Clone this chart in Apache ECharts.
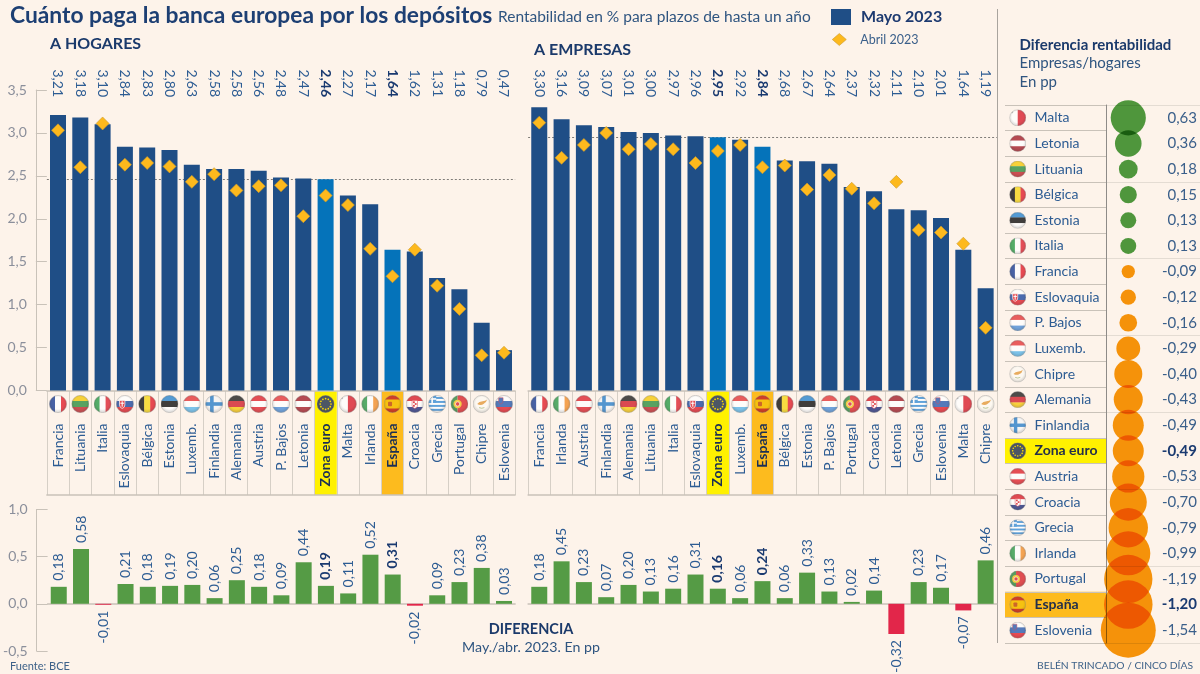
<!DOCTYPE html>
<html><head><meta charset="utf-8">
<style>html,body{margin:0;padding:0;background:#fdf3ea}#c{width:1200px;height:674px}</style>
<script src="https://cdn.jsdelivr.net/npm/echarts@6/dist/echarts.min.js"></script>
</head><body><div id="c"></div>
<script>
// ---------- data ----------
const catsHogares=['Francia','Lituania','Italia','Eslovaquia','Bélgica','Estonia','Luxemb.','Finlandia','Alemania','Austria','P. Bajos','Letonia','Zona euro','Malta','Irlanda','España','Croacia','Grecia','Portugal','Chipre','Eslovenia'];
const mayoHogares=[3.21,3.18,3.10,2.84,2.83,2.80,2.63,2.58,2.58,2.56,2.48,2.47,2.46,2.27,2.17,1.64,1.62,1.31,1.18,0.79,0.47];
const abrilHogares=[3.03,2.60,3.11,2.63,2.65,2.61,2.43,2.52,2.33,2.38,2.39,2.03,2.27,2.16,1.65,1.33,1.64,1.22,0.95,0.41,0.44];
const difHogares=[0.18,0.58,-0.01,0.21,0.18,0.19,0.20,0.06,0.25,0.18,0.09,0.44,0.19,0.11,0.52,0.31,-0.02,0.09,0.23,0.38,0.03];
const catsEmpresas=['Francia','Irlanda','Austria','Finlandia','Alemania','Lituania','Italia','Eslovaquia','Zona euro','Luxemb.','España','Bélgica','Estonia','P. Bajos','Portugal','Croacia','Letonia','Grecia','Eslovenia','Malta','Chipre'];
const mayoEmpresas=[3.30,3.16,3.09,3.07,3.01,3.00,2.97,2.96,2.95,2.92,2.84,2.68,2.67,2.64,2.37,2.32,2.11,2.10,2.01,1.64,1.19];
const abrilEmpresas=[3.12,2.71,2.86,3.00,2.81,2.87,2.81,2.65,2.79,2.86,2.60,2.62,2.34,2.51,2.35,2.18,2.43,1.87,1.84,1.71,0.73];
const difEmpresas=[0.18,0.45,0.23,0.07,0.20,0.13,0.16,0.31,0.16,0.06,0.24,0.06,0.33,0.13,0.02,0.14,-0.32,0.23,0.17,-0.07,0.46];
const catsTabla=['Malta','Letonia','Lituania','Bélgica','Estonia','Italia','Francia','Eslovaquia','P. Bajos','Luxemb.','Chipre','Alemania','Finlandia','Zona euro','Austria','Croacia','Grecia','Irlanda','Portugal','España','Eslovenia'];
const difTabla=[0.63,0.36,0.18,0.15,0.13,0.13,-0.09,-0.12,-0.16,-0.29,-0.40,-0.43,-0.49,-0.49,-0.53,-0.70,-0.79,-0.99,-1.19,-1.20,-1.54];
const ticksMain=[0,0.5,1,1.5,2,2.5,3,3.5];
const ticksDif=[-0.5,0,0.5,1];

// ---------- style ----------
const FONT='Lato';
const BG='#fdf3ea',NAVY='#1f4e86',BLUE='#0573ba',DIAMOND='#fdb91d',GREEN='#559b45',RED='#e2264a';
const INK='#1d3f73',TXT='#2d5c93',GREY='#8b8f9b',RULE='#c9c2b9';
const HL={'Zona euro':'#fff100','España':'#fdbb1e'};
const fmt=v=>v.toFixed(2).replace('.',',');
const fmt1=v=>v.toFixed(1).replace('.',',');

// ---------- flags ----------
const h=(a,b,c)=>`<rect width="20" height="7" fill="${a}"/><rect y="6.67" width="20" height="7" fill="${b}"/><rect y="13.33" width="20" height="7" fill="${c}"/>`;
const v=(a,b,c)=>`<rect width="7" height="20" fill="${a}"/><rect x="6.67" width="7" height="20" fill="${b}"/><rect x="13.33" width="7" height="20" fill="${c}"/>`;
let stars='';for(let i=0;i<12;i++){const t=i*Math.PI/6;stars+=`<circle cx="${10+6*Math.cos(t)}" cy="${10+6*Math.sin(t)}" r="0.95" fill="#ffd800"/>`;}
const flagArt={
 'Francia':v('#1c3f94','#fff','#e2202c'),'Lituania':h('#f6c90e','#2f8f3f','#c1272d'),'Italia':v('#2b9b48','#fff','#dd2533'),
 'Eslovaquia':h('#fff','#1f4aa0','#e0202c')+'<path d="M4 6h6v5q0 3-3 4q-3-1-3-4z" fill="#e0202c" stroke="#fff" stroke-width=".8"/><rect x="6.4" y="7" width="1.2" height="6" fill="#fff"/><rect x="5" y="8.6" width="4" height="1.1" fill="#fff"/>',
 'Bélgica':v('#111','#f8d717','#e2202c'),'Estonia':h('#2a86cf','#111','#fff'),'Luxemb.':h('#e5383b','#fff','#5db7ea'),
 'Finlandia':'<rect width="20" height="20" fill="#f6f6f6"/><rect x="5.5" width="4" height="20" fill="#2a7fc9"/><rect y="8" width="20" height="4" fill="#2a7fc9"/>',
 'Alemania':h('#222','#d3202c','#f8c811'),'Austria':h('#e0252f','#fff','#e0252f'),'P. Bajos':h('#e5383b','#fff','#4d8fd8'),'Letonia':h('#a5202c','#fff','#a5202c'),
 'Zona euro':'<rect width="20" height="20" fill="#20307f"/>'+stars,
 'Malta':'<rect width="10" height="20" fill="#fff"/><rect x="10" width="10" height="20" fill="#d9202f"/><rect x="2.5" y="2.5" width="2" height="2" fill="#bbb"/>',
 'Irlanda':v('#2f9a4a','#fff','#f3902d'),
 'España':'<rect width="20" height="20" fill="#f5c40f"/><rect width="20" height="5" fill="#c6202c"/><rect y="15" width="20" height="5" fill="#c6202c"/><rect x="5" y="7.5" width="4.5" height="5" rx="1" fill="#c0512c"/>',
 'Croacia':h('#d9202c','#fff','#23307f')+'<path d="M7 6h6v6q0 2-3 3q-3-1-3-3z" fill="#fff" stroke="#d9202c" stroke-width=".6"/><rect x="8" y="7" width="2" height="2" fill="#d9202c"/><rect x="10" y="9" width="2" height="2" fill="#d9202c"/><rect x="8" y="11" width="2" height="2" fill="#d9202c"/>',
 'Grecia':'<rect width="20" height="20" fill="#fff"/><rect y="2.2" width="20" height="2.2" fill="#3a8ed6"/><rect y="6.6" width="20" height="2.2" fill="#3a8ed6"/><rect y="11" width="20" height="2.2" fill="#3a8ed6"/><rect y="15.4" width="20" height="2.2" fill="#3a8ed6"/><rect width="9" height="8.8" fill="#3a8ed6"/><rect x="3.6" width="1.8" height="8.8" fill="#fff"/><rect y="3.5" width="9" height="1.8" fill="#fff"/>',
 'Portugal':'<rect width="8" height="20" fill="#2f8a3f"/><rect x="8" width="12" height="20" fill="#d9252c"/><circle cx="8" cy="10" r="4.6" fill="#f3c21b"/><circle cx="8" cy="10" r="2.4" fill="#d9252c" stroke="#fff" stroke-width=".7"/>',
 'Chipre':'<rect width="20" height="20" fill="#fdfaf3"/><path d="M5 10q2-3 6-3q3 0 5-2q-1 4-4 5q-3 2-7 0z" fill="#e39a3c"/><path d="M7 14q3 1.500 6 0" stroke="#8aa35a" stroke-width=".8" fill="none"/>',
 'Eslovenia':h('#fff','#2a5db0','#e0202c')+'<path d="M4 3h5v4q0 2-2.500 3q-2.500-1-2.500-3z" fill="#2a5db0" stroke="#e0202c" stroke-width=".5"/>'
};
function flagUri(name){
 const svg=`<svg xmlns="http://www.w3.org/2000/svg" width="60" height="60" viewBox="0 0 20 20"><defs><clipPath id="k"><circle cx="10" cy="10" r="9.6"/></clipPath><radialGradient id="g" cx=".5" cy=".45" r=".55"><stop offset=".6" stop-color="#000" stop-opacity="0"/><stop offset="1" stop-color="#000" stop-opacity=".22"/></radialGradient></defs><g clip-path="url(#k)">${flagArt[name]}<circle cx="10" cy="10" r="10" fill="url(#g)"/></g><circle cx="10" cy="10" r="9.6" fill="none" stroke="#8d8d8d" stroke-width=".5"/></svg>`;
 return 'image://data:image/svg+xml;charset=utf-8,'+encodeURIComponent(svg);
}

// ---------- layout ----------
const FLAG_Y=0.875;
const grid=[],xAxis=[],yAxis=[],series=[];
function panel(cats,mayo,abril,dif,left,width,showY,yOff){
 const ga=grid.length;
 grid.push({left,width,top:90,height:300.5},{left,width,top:391,height:104},{left,width,top:509.4,height:141.6});
 const xa=xAxis.length,ya=yAxis.length;
 const hi=c=>c in HL;
 const catRich={n:{color:TXT,fontFamily:FONT,fontSize:14},b:{color:'#1a2f55',fontFamily:FONT,fontSize:14,fontWeight:'bold'}};
 xAxis.push(
  {type:'category',gridIndex:ga,data:cats,position:'bottom',axisTick:{show:false},axisLine:{lineStyle:{color:RULE,width:1.5}},
   axisLabel:{interval:0,rotate:90,margin:33,hideOverlap:false,formatter:(s)=>hi(s)?`{b|${s}}`:`{n|${s}}`,rich:catRich}},
  {type:'category',gridIndex:ga,data:mayo.map(fmt),position:'top',axisTick:{show:false},axisLine:{show:false},
   axisLabel:{interval:0,rotate:90,margin:-7,hideOverlap:false,formatter:(s,i)=>hi(cats[i])?`{b|${s}}`:`{n|${s}}`,
    rich:{n:{color:TXT,fontFamily:FONT,fontSize:14},b:{color:'#1a3a70',fontFamily:FONT,fontSize:14,fontWeight:'bold'}}}},
  {type:'category',gridIndex:ga+1,data:cats,axisTick:{show:false},axisLabel:{show:false},axisLine:{lineStyle:{color:RULE,width:1.5}},
   splitLine:{show:true,interval:0,lineStyle:{color:'#d6cfc6',width:1}}},
  {type:'category',gridIndex:ga+2,data:cats,axisTick:{show:false},axisLabel:{show:false},axisLine:{onZero:true,lineStyle:{color:RULE,width:1.5}}}
 );
 const axisY=(gi,min,max,interval,ticks)=>({type:'value',gridIndex:gi,min,max,interval,show:showY,offset:yOff,
   splitLine:{show:false},axisLine:{show:true,lineStyle:{color:RULE,width:1}},axisTick:{show:true,inside:true,length:yOff,lineStyle:{color:RULE}},
   axisLabel:{margin:9,padding:[0,0,4,0],color:GREY,fontFamily:FONT,fontSize:14,formatter:(val)=>ticks.includes(val)?fmt1(val):''}});
 yAxis.push(axisY(ga,0,3.5,0.5,ticksMain),
  {type:'value',gridIndex:ga+1,min:0,max:1,show:false},
  axisY(ga+2,-0.5,1,0.5,ticksDif));
 const zona=mayo[cats.indexOf('Zona euro')];
 series.push(
  {name:'Mayo 2023',type:'bar',xAxisIndex:xa,yAxisIndex:ya,data:mayo,barWidth:16,z:2,
   itemStyle:{color:p=>hi(cats[p.dataIndex])?BLUE:NAVY},
   markLine:{silent:true,z:1,symbol:'none',label:{show:false},animation:false,lineStyle:{color:'#7f7c78',type:[2,2],width:1},data:[{yAxis:zona}]}},
  {name:'Abril 2023',type:'scatter',xAxisIndex:xa,yAxisIndex:ya,data:abril,symbol:'diamond',symbolSize:[13,13],z:4,
   itemStyle:{color:DIAMOND,borderColor:'#c9982e',borderWidth:.6,opacity:1}},
  {type:'bar',xAxisIndex:xa+2,yAxisIndex:ya+1,barWidth:'100%',z:-1,silent:true,
   data:cats.map(c=>({value:hi(c)?1:0,itemStyle:{color:HL[c]||'transparent'}}))},
  {type:'scatter',xAxisIndex:xa+2,yAxisIndex:ya+1,symbolSize:18,z:3,silent:true,
   data:cats.map((c,i)=>({value:[i,FLAG_Y],symbol:flagUri(c)}))},
  {type:'bar',xAxisIndex:xa+3,yAxisIndex:ya+2,barWidth:16,z:2,
   data:dif.map((d,i)=>({value:d,itemStyle:{color:d<0?RED:GREEN},
     label:{show:true,rotate:90,distance:6,fontFamily:FONT,fontSize:14,fontWeight:hi(cats[i])?'bold':'normal',color:hi(cats[i])?'#1a3a70':TXT,
       position:d<0?'bottom':'top',align:d<0?'right':'left',verticalAlign:'middle',formatter:fmt(d)}}))}
 );
}
panel(catsHogares,mayoHogares,abrilHogares,difHogares,46.85,468.3,true,11);
panel(catsEmpresas,mayoEmpresas,abrilEmpresas,difEmpresas,528.1,468.7,false,0);

// table + bubbles
const gT=grid.length;
grid.push({left:1005,width:101,top:105,height:538},{left:1106,width:94,top:105,height:538});
const xT=xAxis.length,yT=yAxis.length;
xAxis.push({type:'value',gridIndex:gT,min:0,max:1,show:false},{type:'value',gridIndex:gT+1,min:0,max:1,show:false});
const rowRich={n:{color:TXT,fontFamily:FONT,fontSize:14},b:{color:'#232f4a',fontFamily:FONT,fontSize:14,fontWeight:'bold'}};
yAxis.push(
 {type:'category',gridIndex:gT,data:catsTabla,inverse:true,position:'left',axisTick:{show:false},axisLine:{show:false},
  splitLine:{show:true,interval:0,lineStyle:{color:RULE,width:1.2}},
  axisLabel:{inside:true,margin:29.5,interval:0,hideOverlap:false,formatter:s=>(s in HL)?`{b|${s}}`:`{n|${s}}`,rich:rowRich}},
 {type:'category',gridIndex:gT+1,data:catsTabla,inverse:true,position:'left',axisTick:{show:false},axisLabel:{show:false},
  axisLine:{show:true,lineStyle:{color:'#8e8b88',width:1}},
  splitLine:{show:true,interval:i=>i%3===0,lineStyle:{color:'#e4dcd3',width:1}}},
 {type:'category',gridIndex:gT+1,data:difTabla.map(fmt),inverse:true,position:'right',axisTick:{show:false},axisLine:{show:false},
  axisLabel:{inside:true,margin:3,interval:0,hideOverlap:false,formatter:(s,i)=>(catsTabla[i] in HL)?`{b|${s}}`:`{n|${s}}`,
   rich:{n:{color:'#3a5f8a',fontFamily:FONT,fontSize:15},b:{color:'#1a3a70',fontFamily:FONT,fontSize:15,fontWeight:'bold'}}}}
);
const FLAG_COL=0.126,BUBBLE_COL=0.237,BUBBLE_SCALE=44.3;
series.push(
 {type:'bar',xAxisIndex:xT,yAxisIndex:yT,barWidth:'100%',z:-1,silent:true,
  data:catsTabla.map(c=>({value:(c in HL)?1:0,itemStyle:{color:HL[c]||'transparent'}}))},
 {type:'scatter',xAxisIndex:xT,yAxisIndex:yT,symbolSize:17,z:3,silent:true,
  data:catsTabla.map((c,i)=>({value:[FLAG_COL,i],symbol:flagUri(c)}))},
 {type:'custom',name:'burbujas',xAxisIndex:xT+1,yAxisIndex:yT+1,z:5,silent:true,clip:false,
  encode:{x:0,y:1},data:difTabla.map((d,i)=>[BUBBLE_COL,i,d]),
  renderItem:(params,api)=>{
   const p=api.coord([api.value(0),api.value(1)]),d=api.value(2);
   return {type:'circle',shape:{cx:p[0],cy:p[1],r:BUBBLE_SCALE*Math.sqrt(Math.abs(d))/2},
     style:{fill:d<0?'#f7990a':'#4f9e41'}};
  }}
);

// static text
const T=(text,x,y,size,fill,weight,align)=>({type:'text',x,y,silent:true,style:{text,fill,align:align||'left',verticalAlign:'middle',font:`${weight||'normal'} ${size}px ${FONT}`}});
const option={
 animation:false,backgroundColor:BG,grid,xAxis,yAxis,series,tooltip:{show:false},
 legend:[
  {left:831,top:9,itemWidth:20,itemHeight:16,selectedMode:false,padding:0,
   data:[{name:'Mayo 2023',icon:'rect',itemStyle:{color:NAVY},textStyle:{fontFamily:FONT,fontSize:16,fontWeight:'bold',color:'#1d3a70',padding:[0,0,0,5]}}]},
  {left:832,top:33,itemWidth:14,itemHeight:12,selectedMode:false,padding:0,
   data:[{name:'Abril 2023',icon:'diamond',itemStyle:{color:DIAMOND,borderColor:'#c9982e',borderWidth:.6},textStyle:{fontFamily:FONT,fontSize:12.5,color:'#3a5f8a',padding:[0,0,0,9]}}]}
 ],
 graphic:{elements:[
  T('Cuánto paga la banca europea por los depósitos',10,16,22.8,INK,'bold'),
  T('Rentabilidad en % para plazos de hasta un año',498,17,15.5,'#2f5580'),
  T('A HOGARES',50,44,16,'#1b3a6b','bold'),
  T('A EMPRESAS',534,50,16,'#1b3a6b','bold'),
  T('Diferencia rentabilidad',1019.5,45.5,15,'#1b3a6b','bold'),
  T('Empresas/hogares',1019.5,63,15,'#2f5580'),
  T('En pp',1019.5,82,15,'#2f5580'),
  T('DIFERENCIA',531,629,14.5,'#1b3a6b','bold','center'),
  T('May./abr. 2023. En pp',531,647,14.2,'#2f5580','normal','center'),
  T('Fuente: BCE',10,666,11,'#3e6289'),
  T('BELÉN TRINCADO / CINCO DÍAS',1193,666,10.3,'#3e6289','normal','right'),
  {type:'line',silent:true,shape:{x1:997.5,y1:9,x2:997.5,y2:643},style:{stroke:'#a9a49e',lineWidth:1}}
 ]}
};
const chart=echarts.init(document.getElementById('c'),null,{renderer:'canvas'});
chart.setOption(option);
// bubbles overlap with a multiply blend, as in the reference
function blendBubbles(){
 chart.getZr().storage.traverse(el=>{
  if(el.type==='circle'&&el.style&&el.style.blend!=='multiply'&&/^#(f7990a|4f9e41)$/.test(el.style.fill)){el.style.blend='multiply';el.dirty();}
 });
}
blendBubbles();
chart.on('finished',blendBubbles);
</script></body></html>
